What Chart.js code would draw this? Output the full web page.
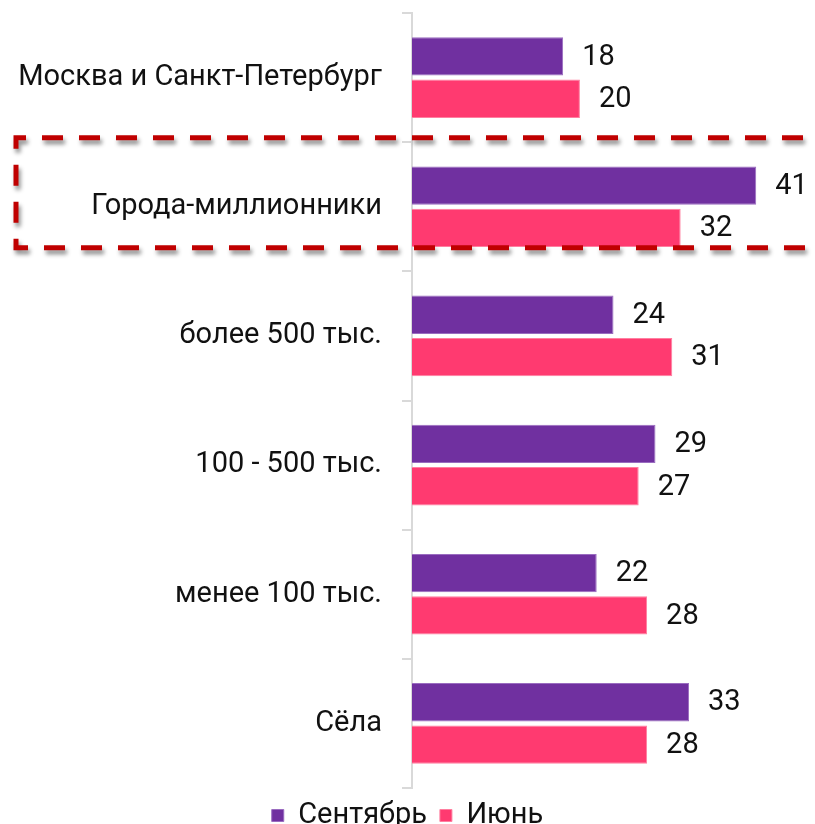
<!DOCTYPE html>
<html><head><meta charset="utf-8">
<script src="https://cdn.jsdelivr.net/npm/chart.js@4/dist/chart.umd.min.js"></script>
<style>html,body{margin:0;padding:0;background:#fff;overflow:hidden}#wrap{width:815px;height:840px;position:relative}</style>
</head><body><div id="wrap"><canvas id="c"></canvas></div>
<script>
const categories = ["Москва и Санкт-Петербург","Города-миллионники","более 500 тыс.","100 - 500 тыс.","менее 100 тыс.","Сёла"];
const september = [18,41,24,29,22,33];
const june = [20,32,31,27,28,28];
const seriesNames = ["Сентябрь","Июнь"];
const FONT = "Roboto";
const FS = 29;

const valueLabels = {
  id:'valueLabels',
  afterDatasetsDraw(chart){
    const ctx = chart.ctx;
    ctx.save();
    ctx.font = FS + "px " + FONT;
    ctx.fillStyle = "#111";
    ctx.textAlign = "left";
    ctx.textBaseline = "middle";
    chart.data.datasets.forEach((ds,i)=>{
      chart.getDatasetMeta(i).data.forEach((el,j)=>{
        ctx.fillText(String(ds.data[j]), el.x + 19, el.y + 1);
      });
    });
    ctx.restore();
  }
};
const highlight = {
  id:'highlight',
  afterDraw(chart){
    const y = chart.scales.y;
    const c = y.getPixelForValue(1);
    const ctx = chart.ctx;
    ctx.save();
    ctx.strokeStyle = "#C00000";
    ctx.lineWidth = 5;
    ctx.setLineDash([21,16]);
    ctx.shadowColor = "rgba(0,0,0,0.45)";
    ctx.shadowBlur = 4;
    ctx.shadowOffsetX = 2;
    ctx.shadowOffsetY = 4;
    ctx.beginPath();
    ctx.moveTo(840, c - 69);
    ctx.lineTo(16, c - 69);
    ctx.lineTo(16, c + 41);
    ctx.lineTo(840, c + 41);
    ctx.stroke();
    ctx.restore();
  }
};

new Chart(document.getElementById('c'), {
  type:'bar',
  data:{
    labels: categories,
    datasets:[
      {label: seriesNames[0], data: september, backgroundColor:"#7030A0", borderColor:"#9A6CC0", borderWidth:1},
      {label: seriesNames[1], data: june, backgroundColor:"#FF3A70", borderColor:"#FF7FA0", borderWidth:1}
    ]
  },
  options:{
    indexAxis:'y',
    responsive:true,
    maintainAspectRatio:false,
    animation:false,
    categoryPercentage:0.656,
    barPercentage:0.905,
    layout:{padding:{top:13,right:0,left:0,bottom:0}},
    scales:{
      x:{display:false,min:0,max:48},
      y:{
        afterFit(s){ s.width = 412; s.paddingTop = 0; s.paddingBottom = 0; },
        grid:{offset:true,drawOnChartArea:false,drawTicks:true,tickLength:10,color:"#D9D9D9",lineWidth:2},
        border:{display:true,color:"#D9D9D9",width:2},
        ticks:{font:{family:FONT,size:FS},color:"#111",padding:20}
      }
    },
    plugins:{
      legend:{position:'bottom',labels:{font:{family:FONT,size:FS},color:"#111",boxWidth:12,boxHeight:12,padding:13}},
      tooltip:{enabled:false}
    }
  },
  plugins:[valueLabels, highlight]
});
</script></body></html>
